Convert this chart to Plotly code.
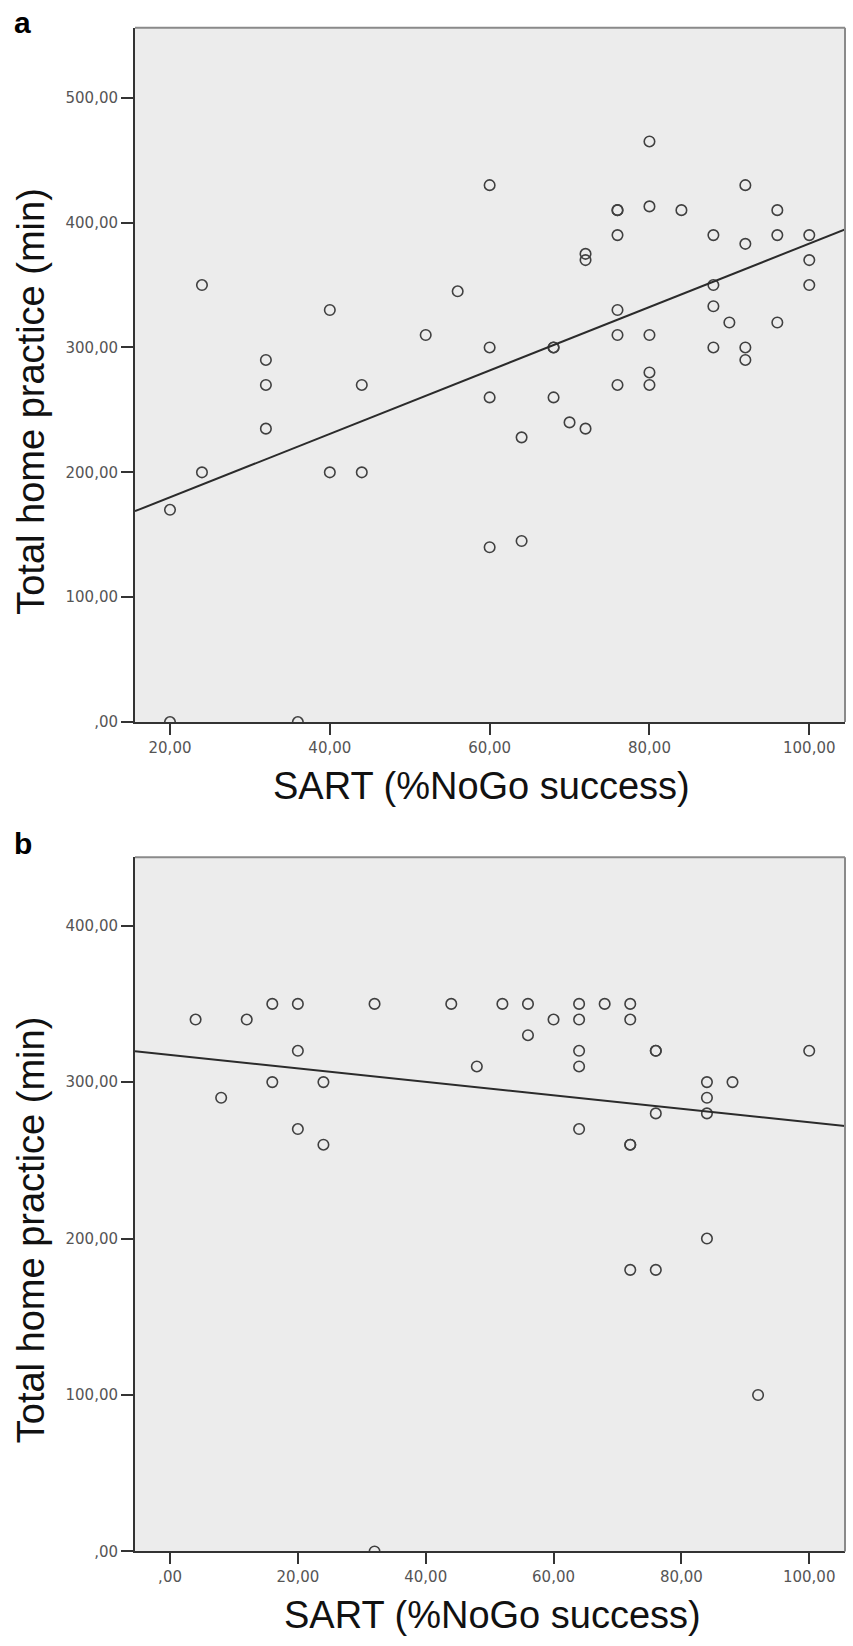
import plotly.graph_objects as go

W, H = 853, 1646

# ---------------- data: panel a ----------------
a_sart = [20, 36, 20, 24, 24, 32, 32, 32, 40, 40, 44, 44, 52, 56, 60, 60, 60, 60,
          64, 64, 68, 68, 68, 70, 72, 72, 72, 76, 76, 76, 76, 76, 76, 80, 80, 80,
          80, 80, 84, 88, 88, 88, 88, 90, 92, 92, 92, 92, 96, 96, 96, 100, 100, 100]
a_practice = [0, 0, 170, 200, 350, 290, 270, 235, 330, 200, 270, 200, 310, 345, 430, 300, 260, 140,
              228, 145, 300, 300, 260, 240, 375, 370, 235, 410, 410, 390, 330, 310, 270, 465, 413, 310,
              280, 270, 410, 390, 350, 333, 300, 320, 430, 383, 300, 290, 410, 390, 320, 390, 370, 350]
a_fit_intercept = 129.2
a_fit_slope = 2.54
a_xrange = [15.62, 104.47]
a_yrange = [0, 556]
a_xticks = [20, 40, 60, 80, 100]
a_xticktext = ["20,00", "40,00", "60,00", "80,00", "100,00"]
a_yticks = [0, 100, 200, 300, 400, 500]
a_yticktext = [",00", "100,00", "200,00", "300,00", "400,00", "500,00"]

# ---------------- data: panel b ----------------
b_sart = [4, 8, 12, 16, 16, 20, 20, 20, 24, 24, 32, 32, 44, 48, 52, 56, 56, 60, 64, 64,
          64, 64, 64, 68, 72, 72, 72, 72, 72, 76, 76, 76, 76, 84, 84, 84, 84, 88, 92, 100]
b_practice = [340, 290, 340, 350, 300, 350, 320, 270, 300, 260, 350, 0, 350, 310, 350, 350, 330, 340, 350, 340,
              320, 310, 270, 350, 350, 340, 260, 260, 180, 320, 320, 280, 180, 300, 290, 280, 200, 300, 100, 320]
b_fit_intercept = 317.35
b_fit_slope = -0.4294
b_xrange = [-5.48, 105.6]
b_yrange = [0, 443.7]
b_xticks = [0, 20, 40, 60, 80, 100]
b_xticktext = [",00", "20,00", "40,00", "60,00", "80,00", "100,00"]
b_yticks = [0, 100, 200, 300, 400]
b_yticktext = [",00", "100,00", "200,00", "300,00", "400,00"]

x_title = "SART (%NoGo success)"
y_title = "Total home practice (min)"

# ---------------- styling ----------------
MARKER = dict(symbol="circle-open", size=10.5, color="#404040", line=dict(width=1.6, color="#404040"))
LINE = dict(color="#2b2b2b", width=2)
TICKFONT = dict(family="DejaVu Sans", size=15, color="#555555")
TITLEFONT = dict(family="Liberation Sans, Arial", size=38, color="#111111")
LETTERFONT = dict(family="Liberation Sans, Arial", size=30, color="#000000")

def px(x):
    return x / W

def py(y):
    return 1 - y / H

fig = go.Figure()

# panel a
fig.add_trace(go.Scatter(x=a_sart, y=a_practice, mode="markers", marker=MARKER,
                         xaxis="x", yaxis="y", showlegend=False, hoverinfo="skip"))
fig.add_trace(go.Scatter(x=a_xrange, y=[a_fit_intercept + a_fit_slope * v for v in a_xrange],
                         mode="lines", line=LINE, xaxis="x", yaxis="y", showlegend=False,
                         hoverinfo="skip"))
# panel b
fig.add_trace(go.Scatter(x=b_sart, y=b_practice, mode="markers", marker=MARKER,
                         xaxis="x2", yaxis="y2", showlegend=False, hoverinfo="skip"))
fig.add_trace(go.Scatter(x=b_xrange, y=[b_fit_intercept + b_fit_slope * v for v in b_xrange],
                         mode="lines", line=LINE, xaxis="x2", yaxis="y2", showlegend=False,
                         hoverinfo="skip"))

def xaxis_cfg(rng, tv, tt, anchor):
    return dict(domain=[px(135), px(845)], range=rng, anchor=anchor,
                tickvals=tv, ticktext=tt, ticks="outside", ticklen=11, tickwidth=2,
                tickcolor="#333333", showline=True, linecolor="#333333", linewidth=2,
                showgrid=False, zeroline=False, tickfont=TICKFONT, fixedrange=True)

def yaxis_cfg(rng, tv, tt, anchor, top, bottom):
    return dict(domain=[py(bottom), py(top)], range=rng, anchor=anchor,
                tickvals=tv, ticktext=tt, ticks="outside", ticklen=12, tickwidth=2,
                tickcolor="#333333", showline=True, linecolor="#333333", linewidth=2,
                showgrid=False, zeroline=False, tickfont=TICKFONT, fixedrange=True)

fig.update_layout(
    width=W, height=H,
    margin=dict(l=0, r=0, t=0, b=0),
    paper_bgcolor="white",
    plot_bgcolor="#ececec",
    xaxis=xaxis_cfg(a_xrange, a_xticks, a_xticktext, "y"),
    yaxis=yaxis_cfg(a_yrange, a_yticks, a_yticktext, "x", 28, 726),
    xaxis2=xaxis_cfg(b_xrange, b_xticks, b_xticktext, "y2"),
    yaxis2=yaxis_cfg(b_yrange, b_yticks, b_yticktext, "x2", 862, 1560),
)

# top and right frame lines (lighter gray)
shapes = []
for xr, yr in (("x", "y"), ("x2", "y2")):
    shapes.append(dict(type="line", xref=f"{xr} domain", yref=f"{yr} domain",
                       x0=0, x1=1, y0=1, y1=1, line=dict(color="#8a8a8a", width=2)))
    shapes.append(dict(type="line", xref=f"{xr} domain", yref=f"{yr} domain",
                       x0=1, x1=1, y0=0, y1=1, line=dict(color="#8a8a8a", width=2)))
fig.update_layout(shapes=shapes)

annotations = [
    dict(text="<b>a</b>", x=px(12), y=py(4), xanchor="left", yanchor="top", font=LETTERFONT),
    dict(text="<b>b</b>", x=px(12), y=py(830), xanchor="left", yanchor="top", font=LETTERFONT),
    dict(text=x_title, x=px(481), y=py(790), xanchor="center", yanchor="middle", font=TITLEFONT),
    dict(text=x_title, x=px(492), y=py(1624), xanchor="center", yanchor="middle", font=TITLEFONT),
    dict(text=y_title, x=px(31), y=py(404), xanchor="center", yanchor="middle", textangle=-90, font=TITLEFONT),
    dict(text=y_title, x=px(31), y=py(1237), xanchor="center", yanchor="middle", textangle=-90, font=TITLEFONT),
]
for a in annotations:
    a.update(xref="paper", yref="paper", showarrow=False)
fig.update_layout(annotations=annotations)

fig.write_html("out.html")
